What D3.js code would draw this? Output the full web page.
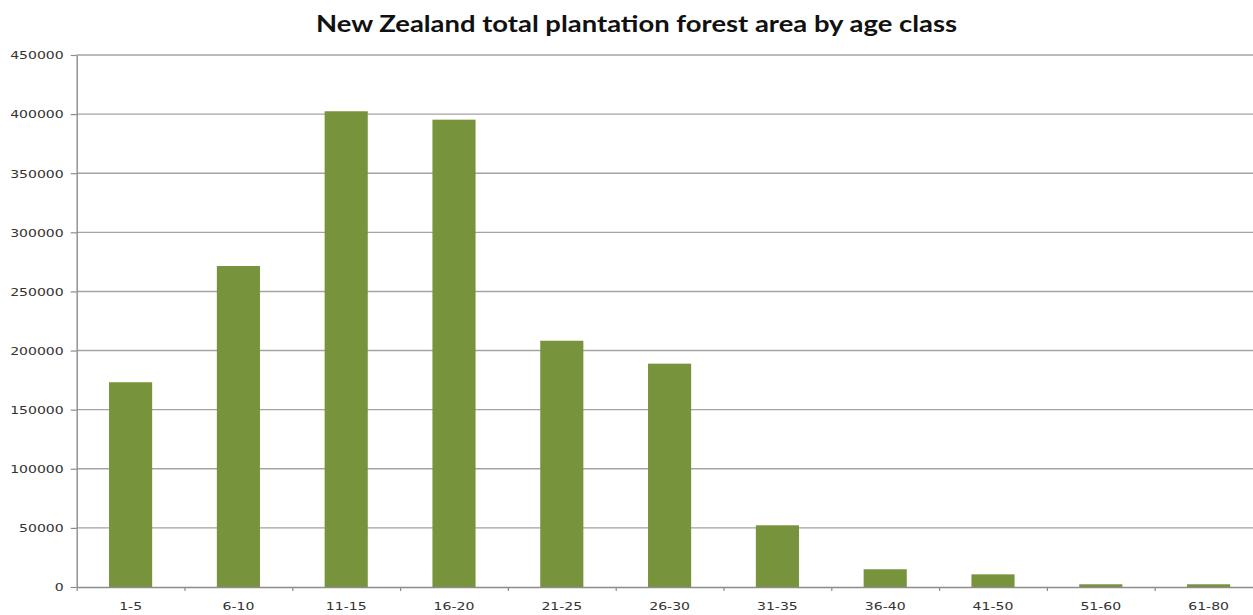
<!DOCTYPE html>
<html>
<head>
<meta charset="utf-8">
<script src="https://cdn.jsdelivr.net/npm/d3@7"></script>
<style>
  html, body { margin: 0; padding: 0; background: #fff; }
  svg { display: block; }
  .tick text { font-family: "DejaVu Sans", Verdana, sans-serif; font-size: 10.8px; fill: #333; }
</style>
</head>
<body>
<svg id="chart" width="1253" height="615"></svg>
<script>
// Plantation forest area (hectares) by age class
const ageClasses = ["1-5", "6-10", "11-15", "16-20", "21-25", "26-30", "31-35", "36-40", "41-50", "51-60", "61-80"];
const areaHa = [173200, 271500, 402400, 395300, 208300, 188900, 52200, 15000, 10700, 2300, 2300];
const yTicks = [0, 50000, 100000, 150000, 200000, 250000, 300000, 350000, 400000, 450000];
const titleText = "New Zealand total plantation forest area by age class";

const svg = d3.select("#chart");
const W = 1253, H = 615;
const plotLeft = 76.7, plotRight = 76.7 + 11 * 107.8, plotTop = 55, plotBottom = 587;

const x = d3.scaleBand().domain(ageClasses).range([plotLeft, plotRight])
  .paddingInner(0.6).paddingOuter(0.3);
const xEdge = d3.scaleLinear().domain([0, ageClasses.length]).range([plotLeft, plotRight]);
const y = d3.scaleLinear().domain([0, 450000]).range([plotBottom, plotTop]);

svg.append("rect").attr("width", W).attr("height", H).attr("fill", "#fff");

// horizontal gridlines
svg.append("g")
  .selectAll("line")
  .data(yTicks.filter(d => d > 0))
  .join("line")
  .attr("x1", plotLeft).attr("x2", plotRight)
  .attr("y1", d => y(d)).attr("y2", d => y(d))
  .attr("stroke", "#a3a3a3").attr("stroke-width", 1.4);

// bars
svg.append("g")
  .selectAll("rect")
  .data(ageClasses.map((c, i) => ({ c, v: areaHa[i] })))
  .join("rect")
  .attr("x", d => x(d.c))
  .attr("width", x.bandwidth())
  .attr("y", d => y(d.v))
  .attr("height", d => y(0) - y(d.v))
  .attr("fill", "#77933c");

// y axis
const yAxis = svg.append("g")
  .attr("transform", `translate(${plotLeft},0)`)
  .call(d3.axisLeft(y).tickValues(yTicks).tickFormat(d3.format("d")).tickSize(6).tickSizeOuter(0).tickPadding(4));
yAxis.select(".domain").attr("stroke", "#8c8c8c").attr("stroke-width", 1.4);
yAxis.selectAll(".tick line").attr("stroke", "#8c8c8c").attr("stroke-width", 1.2);
yAxis.selectAll(".tick text").attr("transform", "scale(1.3,1)").attr("dy", "0.35em");

// x axis line with ticks on category boundaries
const xLine = svg.append("g")
  .attr("transform", `translate(0,${plotBottom})`)
  .call(d3.axisBottom(xEdge).tickValues(d3.range(0, ageClasses.length + 1)).tickFormat("").tickSize(4).tickSizeOuter(0));
xLine.select(".domain").attr("stroke", "#8c8c8c").attr("stroke-width", 1.4);
xLine.selectAll(".tick line").attr("stroke", "#8c8c8c").attr("stroke-width", 1.2);

// category labels
const xAxis = svg.append("g")
  .attr("transform", `translate(0,${plotBottom})`)
  .call(d3.axisBottom(x).tickSize(0).tickPadding(15));
xAxis.select(".domain").remove();
xAxis.selectAll(".tick text").attr("transform", "scale(1.3,1)");

// title
svg.append("text")
  .attr("x", 636.5).attr("y", 32)
  .attr("text-anchor", "middle")
  .attr("font-family", "Lato, 'Open Sans', sans-serif")
  .attr("font-weight", "bold")
  .attr("font-size", 22)
  .attr("fill", "#111")
  .attr("textLength", 641)
  .attr("lengthAdjust", "spacingAndGlyphs")
  .text(titleText);
</script>
</body>
</html>
